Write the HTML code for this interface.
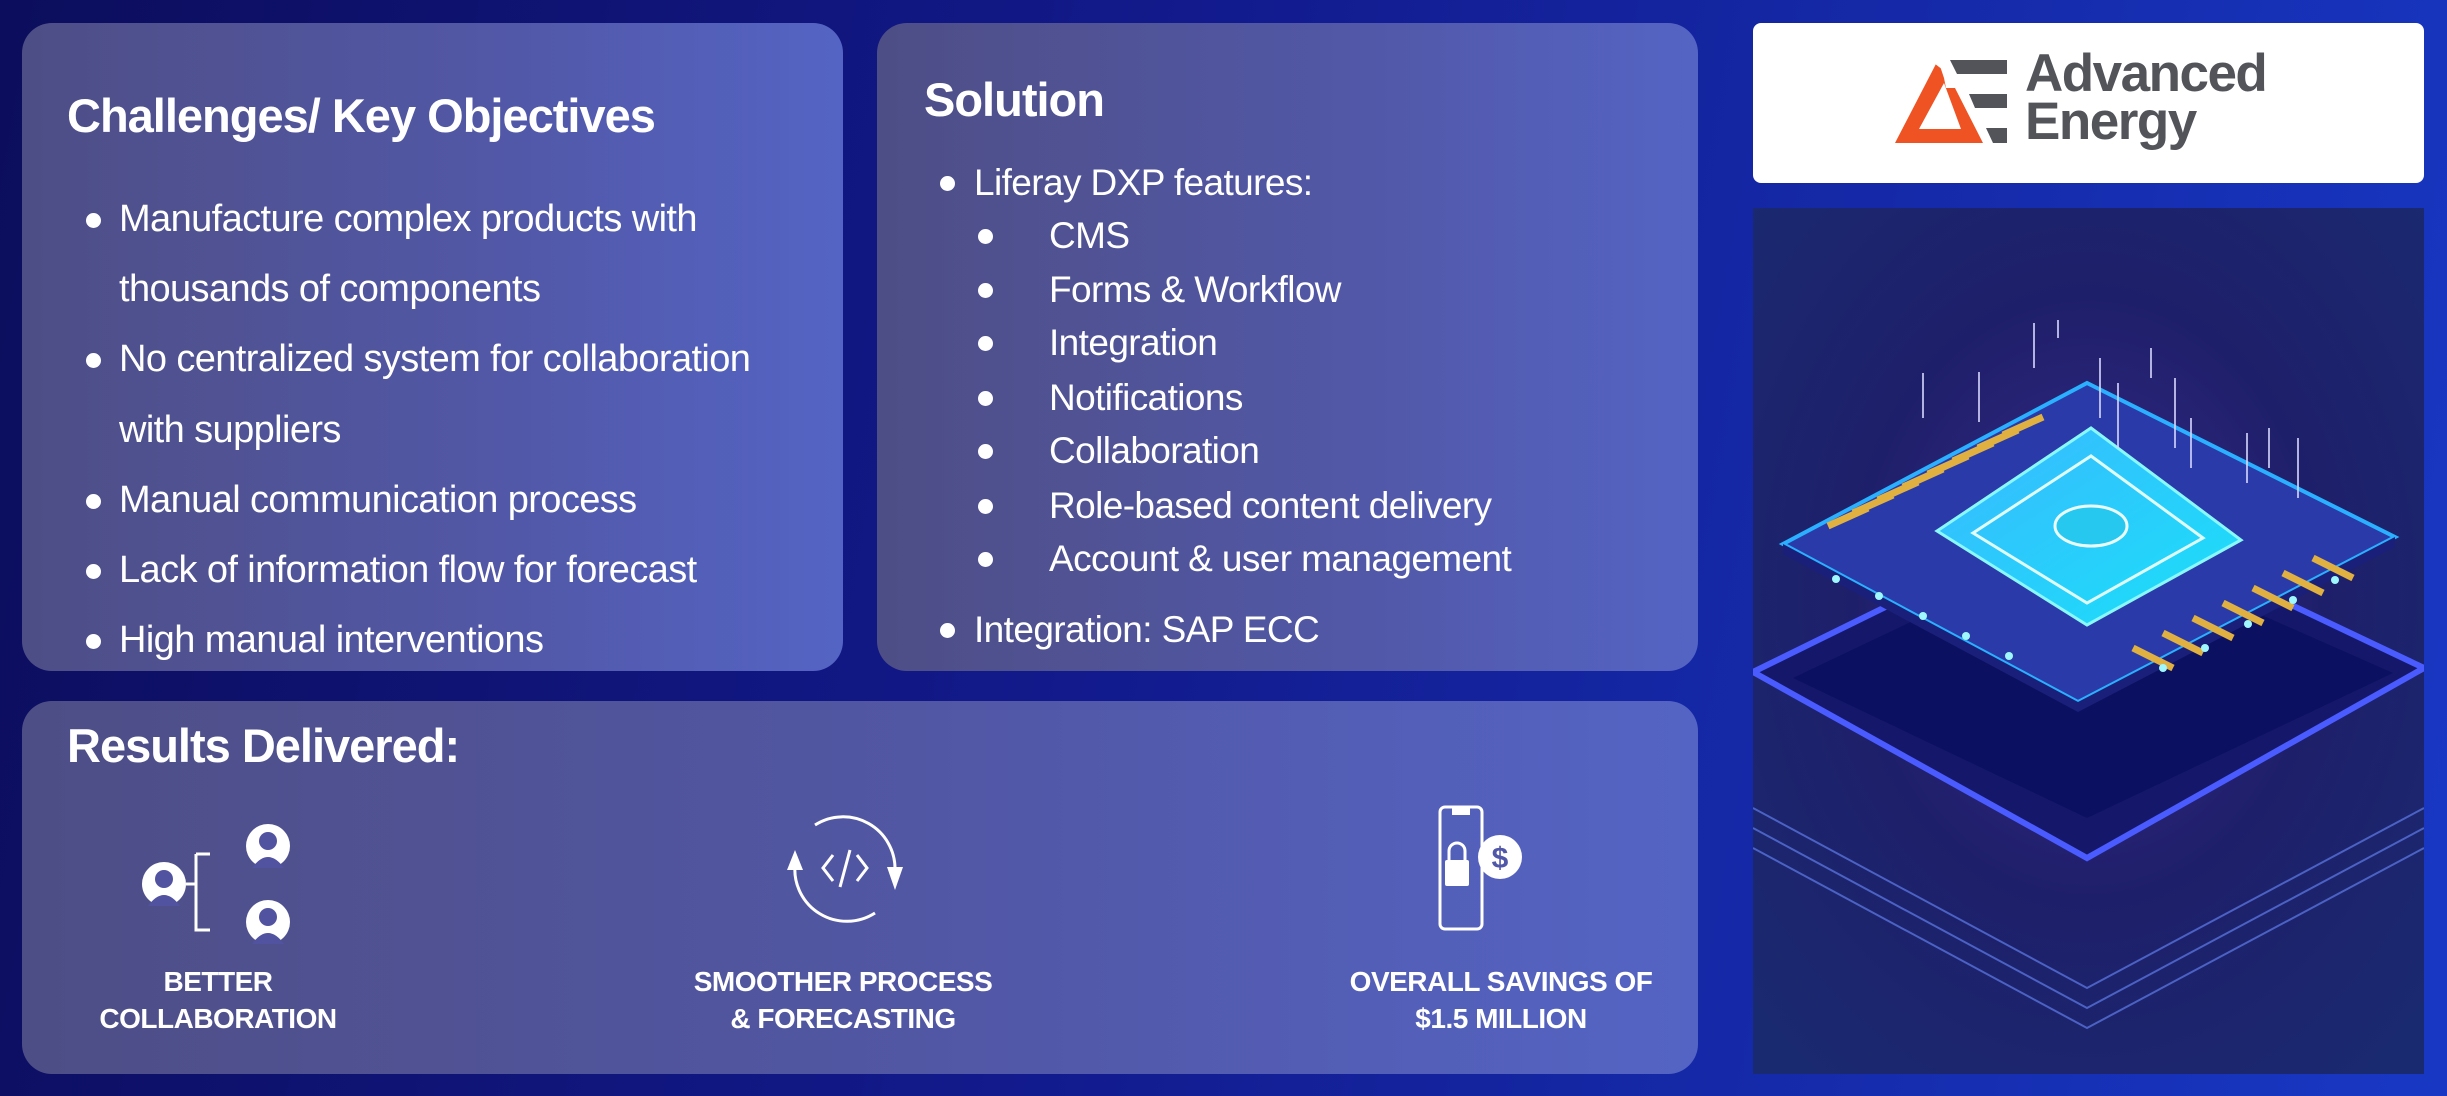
<!DOCTYPE html>
<html><head><meta charset="utf-8"><style>
*{margin:0;padding:0;box-sizing:border-box}
body{width:2447px;height:1096px;overflow:hidden;background:linear-gradient(100deg,#0c0d5c 0%,#121a8c 45%,#1838c4 100%);font-family:"Liberation Sans",sans-serif;color:#fff;position:relative}
.panel{position:absolute;border-radius:30px;background:linear-gradient(90deg,#4e4e86 0%,#5258a8 60%,#5464c4 100%)}
.t{position:absolute;white-space:nowrap}
h2{position:absolute;font-size:47px;font-weight:bold;letter-spacing:-1px;white-space:nowrap}
.b{position:absolute;font-size:38px;letter-spacing:-0.6px;white-space:nowrap;line-height:1}
.s .b{font-size:37px}
.dot{position:absolute;width:15px;height:15px;border-radius:50%;background:#fff}
.lbl{position:absolute;font-size:28px;font-weight:bold;text-align:center;line-height:37px;letter-spacing:-0.5px;transform:translateX(-50%);white-space:nowrap}
</style></head><body>
<div class="panel" style="left:22px;top:23px;width:821px;height:648px"></div>
<div class="panel" style="left:877px;top:23px;width:821px;height:648px"></div>
<div class="panel" style="left:22px;top:701px;width:1676px;height:373px"></div>

<h2 style="left:67px;top:88px">Challenges/ Key Objectives</h2>
<div class="dot" style="left:86px;top:213px"></div><div class="b" style="left:119px;top:200px">Manufacture complex products with</div>
<div class="b" style="left:119px;top:270px">thousands of components</div>
<div class="dot" style="left:86px;top:353px"></div><div class="b" style="left:119px;top:340px">No centralized system for collaboration</div>
<div class="b" style="left:119px;top:411px">with suppliers</div>
<div class="dot" style="left:86px;top:494px"></div><div class="b" style="left:119px;top:481px">Manual communication process</div>
<div class="dot" style="left:86px;top:564px"></div><div class="b" style="left:119px;top:551px">Lack of information flow for forecast</div>
<div class="dot" style="left:86px;top:634px"></div><div class="b" style="left:119px;top:621px">High manual interventions</div>

<div class="s">
<h2 style="left:924px;top:72px">Solution</h2>
<div class="dot" style="left:940px;top:176px"></div><div class="b" style="left:974px;top:164px">Liferay DXP features:</div>
<div class="dot" style="left:978px;top:229px"></div><div class="b" style="left:1049px;top:217px">CMS</div>
<div class="dot" style="left:978px;top:283px"></div><div class="b" style="left:1049px;top:271px">Forms &amp; Workflow</div>
<div class="dot" style="left:978px;top:336px"></div><div class="b" style="left:1049px;top:324px">Integration</div>
<div class="dot" style="left:978px;top:391px"></div><div class="b" style="left:1049px;top:379px">Notifications</div>
<div class="dot" style="left:978px;top:444px"></div><div class="b" style="left:1049px;top:432px">Collaboration</div>
<div class="dot" style="left:978px;top:499px"></div><div class="b" style="left:1049px;top:487px">Role-based content delivery</div>
<div class="dot" style="left:978px;top:552px"></div><div class="b" style="left:1049px;top:540px">Account &amp; user management</div>
<div class="dot" style="left:940px;top:623px"></div><div class="b" style="left:974px;top:611px">Integration: SAP ECC</div>
</div>

<h2 style="left:67px;top:718px">Results Delivered:</h2>

<svg style="position:absolute;left:130px;top:818px" width="170" height="144" viewBox="0 0 170 144">
<g fill="#fff">
<circle cx="34" cy="66" r="22"/><circle cx="138" cy="28" r="22"/><circle cx="138" cy="104" r="22"/>
</g>
<g fill="#5152a0"><circle cx="34" cy="61" r="9"/><path d="M18 88 Q34 66 50 88Z"/><circle cx="138" cy="23" r="9"/><path d="M122 50 Q138 28 154 50Z"/><circle cx="138" cy="99" r="9"/><path d="M122 126 Q138 104 154 126Z"/></g>
<path d="M56 66 H66 M66 36 H80 M66 36 V112 H80" stroke="#fff" stroke-width="3" fill="none"/>
</svg>

<svg style="position:absolute;left:775px;top:805px" width="140" height="130" viewBox="0 0 140 130">
<path d="M40 20 A52 52 0 0 1 120 65" stroke="#fff" stroke-width="3" fill="none"/>
<path d="M20 60 A52 52 0 0 0 100 108" stroke="#fff" stroke-width="3" fill="none"/>
<path d="M12 65 L20 45 L28 65Z M112 62 L120 85 L128 62Z" fill="#fff"/>
<path d="M58 50 L48 63 L58 76 M82 50 L92 63 L82 76 M75 45 L65 82" stroke="#fff" stroke-width="3" fill="none"/>
</svg>

<svg style="position:absolute;left:1430px;top:805px" width="140" height="130" viewBox="0 0 140 130">
<rect x="10" y="2" width="42" height="122" rx="5" stroke="#fff" stroke-width="3" fill="none"/>
<rect x="22" y="2" width="18" height="8" fill="#fff"/>
<rect x="15" y="55" width="24" height="26" rx="2" fill="#fff"/>
<path d="M19 56 V46 A8 8 0 0 1 35 46 V56" stroke="#fff" stroke-width="3" fill="none"/>
<circle cx="70" cy="52" r="22" fill="#fff"/>
<text x="70" y="63" font-family="Liberation Sans" font-weight="bold" font-size="30" fill="#5258a8" text-anchor="middle">$</text>
</svg>

<div class="lbl" style="left:218px;top:963px">BETTER<br>COLLABORATION</div>
<div class="lbl" style="left:843px;top:963px">SMOOTHER PROCESS<br>&amp; FORECASTING</div>
<div class="lbl" style="left:1501px;top:963px">OVERALL SAVINGS OF<br>$1.5 MILLION</div>

<div style="position:absolute;left:1753px;top:23px;width:671px;height:160px;background:#fff;border-radius:8px"></div>
<svg style="position:absolute;left:1753px;top:23px" width="671" height="160" viewBox="1753 23 671 160">
<path d="M1938 60 L1895 143 L1983 143 L1955 88 L1946 88 L1944 78Z" fill="#ef5323"/>
<path d="M1919 129 L1944 83 L1961 129Z" fill="#fff"/>
<path d="M1930 60 L1948 60 L1943 70 Z" fill="#fff"/>
<path d="M1950 60 H2007 V74 H1957Z M1969 94 H2007 V108 H1975Z M1986 128 H2007 V143 H1993Z" fill="#52545a"/>
</svg>
<div class="t" style="left:2025px;top:50px;font-size:53px;font-weight:bold;color:#52545a;letter-spacing:-1.5px;line-height:48px">Advanced<br>Energy</div>

<svg style="position:absolute;left:1753px;top:208px" width="671" height="866" viewBox="0 0 671 866">
<defs>
<radialGradient id="bg" cx="0.5" cy="0.45" r="0.7"><stop offset="0" stop-color="#3a2a8a"/><stop offset="0.5" stop-color="#1e1f6a"/><stop offset="1" stop-color="#1a2a70"/></radialGradient>
<linearGradient id="cy" x1="0" y1="0" x2="1" y2="1"><stop offset="0" stop-color="#3ab8ff"/><stop offset="1" stop-color="#1ae0f8"/></linearGradient>
</defs>
<rect width="671" height="866" fill="url(#bg)"/>
<g stroke="#6a8cff" stroke-width="2" opacity="0.6" fill="none">
<path d="M0 600 L334 780 L671 600 M0 620 L334 800 L671 620 M0 640 L334 820 L671 640"/>
</g>
<polygon points="0,464 334,300 671,460 334,650" fill="#15186a" stroke="#4a5cff" stroke-width="6"/>
<polygon points="40,470 334,330 640,465 334,610" fill="#0c1060"/>
<polygon points="30,336 334,175 642,329 325,494" fill="#2a3aa8" stroke="#2ab0ff" stroke-width="4"/>
<polygon points="30,346 325,504 642,339 642,329 325,494 30,336" fill="#1a207a"/>
<polygon points="184,323 338,220 488,332 334,417" fill="url(#cy)" stroke="#8af8ff" stroke-width="3"/>
<polygon points="220,325 338,248 450,330 334,395" fill="none" stroke="#dfffff" stroke-width="3"/>
<ellipse cx="338" cy="318" rx="36" ry="20" fill="#26c8f0" stroke="#eaffff" stroke-width="3"/>
<g stroke="#e0b040" stroke-width="7">
<path d="M75 318 L115 300 M100 305 L140 287 M125 292 L165 274 M150 279 L190 261 M175 266 L215 248 M200 253 L240 235 M225 240 L265 222 M250 227 L290 209"/>
<path d="M380 440 L420 460 M410 425 L450 445 M440 410 L480 430 M470 395 L510 415 M500 380 L540 400 M530 365 L570 385 M560 350 L600 370"/>
</g>
<g fill="#9ff8ff"><circle cx="83" cy="371" r="4"/><circle cx="126" cy="388" r="4"/><circle cx="170" cy="408" r="4"/><circle cx="213" cy="428" r="4"/><circle cx="256" cy="448" r="4"/><circle cx="410" cy="460" r="4"/><circle cx="452" cy="440" r="4"/><circle cx="495" cy="416" r="4"/><circle cx="540" cy="392" r="4"/><circle cx="582" cy="372" r="4"/></g>
<g stroke="#d8d8ff" stroke-width="2" opacity="0.8"><path d="M281 115 V160 M305 112 V130 M347 150 V210 M365 175 V240 M398 140 V170 M170 165 V210 M226 164 V214 M422 170 V240 M438 210 V260 M494 225 V275 M516 220 V260 M545 230 V290"/></g>
</svg>
</body></html>
